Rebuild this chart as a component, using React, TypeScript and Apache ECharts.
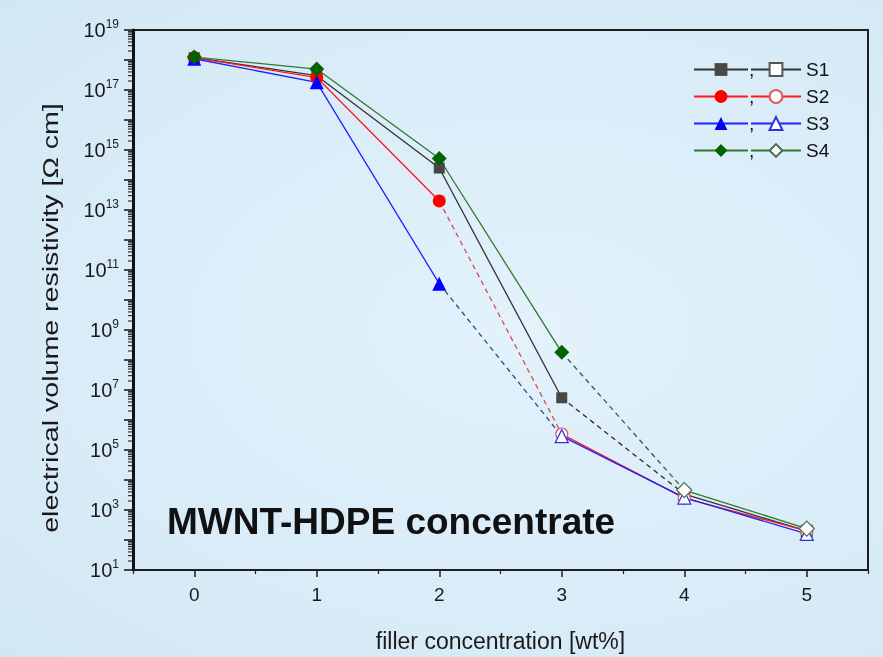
import React, { useEffect, useRef } from "react";
import * as echarts from "echarts";

const FONT = '"Liberation Sans", Arial, Helvetica, sans-serif';

// x positions (filler concentration, wt%)
const X_VALUES = [0, 1, 2, 3, 4, 5];
const X_TICKS = [0, 1, 2, 3, 4, 5];
const X_HALF_TICKS = [-0.5, 0.5, 1.5, 2.5, 3.5, 4.5, 5.5];

// electrical volume resistivity [Ω cm]
const S1_VALUES = [1.2e18, 3.0e17, 2.5e14, 5.5e6, 3.4e3, 2.0e2];
const S2_VALUES = [1.2e18, 2.6e17, 2.0e13, 3.4e5, 2.5e3, 2.0e2];
const S3_VALUES = [1.1e18, 1.8e17, 3.5e10, 2.9e5, 2.6e3, 1.6e2];
const S4_VALUES = [1.25e18, 5.0e17, 5.2e14, 1.8e8, 4.6e3, 2.4e2];
// index of the last filled (solid) point; later points are open symbols
const S1_LAST_FILLED = 3;
const S2_LAST_FILLED = 2;
const S3_LAST_FILLED = 2;
const S4_LAST_FILLED = 3;

const SERIES_NAMES = ["S1", "S2", "S3", "S4"];
const Y_MINOR_MULTIPLIERS = [2, 3, 4, 5, 6, 7, 8, 9];
const Y_MIN_EXP = 1;
const Y_MAX_EXP = 19;

const STYLES = [
  { line: "#333333", fill: "#474747", dash: "#2a2a2a", open: "#555555", symbol: "rect", size: 11, osize: 11 },
  { line: "#ff1a1a", fill: "#ff0000", dash: "#e04848", open: "#e05a5a", symbol: "circle", size: 13, osize: 12 },
  { line: "#2020ff", fill: "#0000ff", dash: "#30478a", open: "#3030e0", symbol: "triangle", size: 14, osize: 13 },
  { line: "#2f7a2f", fill: "#006400", dash: "#3c5c3c", open: "#4d6a4d", symbol: "diamond", size: 15, osize: 15 },
];

const ALL = [
  { vals: S1_VALUES, last: S1_LAST_FILLED },
  { vals: S2_VALUES, last: S2_LAST_FILLED },
  { vals: S3_VALUES, last: S3_LAST_FILLED },
  { vals: S4_VALUES, last: S4_LAST_FILLED },
];

function pairs(from: number, to: number, vals: number[]) {
  const out: number[][] = [];
  for (let i = from; i <= to; i++) out.push([X_VALUES[i], vals[i]]);
  return out;
}

export default function App() {
  const ref = useRef<HTMLDivElement>(null);

  useEffect(() => {
    if (!ref.current) return;
    const chart = echarts.init(ref.current, null, { renderer: "svg" });

    const series: any[] = [];
    ALL.forEach((s, k) => {
      const st = STYLES[k];
      const name = SERIES_NAMES[k];
      series.push({
        type: "line",
        name: name + " filled",
        data: pairs(0, s.last, s.vals),
        symbol: st.symbol,
        symbolSize: st.size,
        z: 4,
        lineStyle: { color: st.line, width: 1.3 },
        itemStyle: { color: st.fill },
      });
      series.push({
        type: "line",
        name: name + " link",
        data: pairs(s.last, s.last + 1, s.vals),
        showSymbol: false,
        symbol: "none",
        z: 2,
        lineStyle: { color: st.dash, width: 1.3, type: [5, 4] },
      });
      series.push({
        type: "line",
        name: name,
        data: pairs(s.last + 1, s.vals.length - 1, s.vals),
        symbol: st.symbol,
        symbolSize: st.osize,
        z: 3,
        lineStyle: { color: st.line, width: 1.3 },
        itemStyle: { color: "#fbfdfe", borderColor: st.open, borderWidth: 1.2 },
      });
    });

    // log-spaced minor ticks on the y axis
    const minorTicks: number[][] = [];
    for (let e = Y_MIN_EXP; e < Y_MAX_EXP; e++) {
      Y_MINOR_MULTIPLIERS.forEach((m) => minorTicks.push([-0.5, m * Math.pow(10, e)]));
    }
    series.push({
      type: "custom",
      name: "minor",
      silent: true,
      clip: false,
      z: 10,
      data: minorTicks,
      renderItem: (params: any, api: any) => {
        const p = api.coord([api.value(0), api.value(1)]);
        return {
          type: "line",
          shape: { x1: p[0] - 5, y1: p[1], x2: p[0], y2: p[1] },
          style: { stroke: "#111", lineWidth: 1 },
        };
      },
    });

    const legendText = { fontFamily: FONT, fontSize: 19, color: "#111", lineHeight: 16 };

    chart.setOption({
      animation: false,
      backgroundColor: "transparent",
      textStyle: { fontFamily: FONT },
      grid: {
        left: 133,
        right: 15,
        top: 30,
        bottom: 86,
        show: true,
        borderColor: "#1e1e1e",
        borderWidth: 2,
        backgroundColor: "transparent",
      },
      legend: [
        {
          data: SERIES_NAMES.map((n) => n + " filled"),
          orient: "vertical",
          left: 688,
          top: 55,
          itemWidth: 54,
          itemHeight: 16,
          itemGap: 8,
          selectedMode: false,
          formatter: () => ",",
          textStyle: { ...legendText, padding: [0, 0, 0, -4] },
        },
        {
          data: SERIES_NAMES,
          orient: "vertical",
          left: 745,
          top: 55,
          itemWidth: 50,
          itemHeight: 16,
          itemGap: 8,
          selectedMode: false,
          textStyle: { ...legendText, padding: [0, 0, 0, 0] },
        },
      ],
      xAxis: [
        {
          type: "value",
          min: -0.5,
          max: 5.5,
          interval: 0.5,
          axisLine: { onZero: false, lineStyle: { color: "#1e1e1e", width: 2 } },
          axisTick: { show: true, inside: false, length: 7, lineStyle: { color: "#1e1e1e", width: 1.5 }, customValues: X_TICKS },
          axisLabel: {
            customValues: X_TICKS,
            margin: 15,
            fontFamily: FONT,
            fontSize: 19,
            color: "#1a1a1a",
            formatter: (v: number) => (Number.isInteger(v) ? String(v) : ""),
          },
          splitLine: { show: false },
          name: "filler concentration [wt%]",
          nameLocation: "middle",
          nameGap: 59,
          nameTextStyle: { fontFamily: FONT, fontSize: 23, color: "#1a1a1a" },
        },
        {
          type: "value",
          min: -0.5,
          max: 5.5,
          interval: 0.5,
          position: "bottom",
          axisLine: { show: false, onZero: false },
          axisTick: { show: true, inside: false, length: 4, lineStyle: { color: "#1e1e1e", width: 1.2 }, customValues: X_HALF_TICKS },
          axisLabel: { show: false },
          splitLine: { show: false },
        },
      ],
      yAxis: {
        type: "log",
        logBase: 10,
        min: Math.pow(10, Y_MIN_EXP),
        max: Math.pow(10, Y_MAX_EXP),
        interval: 1,
        axisLine: { onZero: false, lineStyle: { color: "#111", width: 3 } },
        axisTick: { show: true, inside: false, length: 9, lineStyle: { color: "#111", width: 1.5 } },
        minorTick: { show: false },
        splitLine: { show: false },
        axisLabel: {
          margin: 14,
          fontFamily: FONT,
          color: "#1a1a1a",
          formatter: (v: number) => {
            const e = Math.round(Math.log10(v));
            return e % 2 === 1 ? `{b|10}{e|${e}}` : "";
          },
          rich: {
            b: { fontSize: 20, fontFamily: FONT, color: "#1a1a1a" },
            e: { fontSize: 12, fontFamily: FONT, color: "#1a1a1a", padding: [0, 0, 12, 0] },
          },
        },
      },
      graphic: [
        {
          type: "text",
          x: 50,
          y: 318,
          rotation: Math.PI / 2,
          scaleX: 1.3,
          style: {
            text: "electrical volume resistivity [Ω cm]",
            fontFamily: FONT,
            fontSize: 22,
            fill: "#1a1a1a",
            align: "center",
            verticalAlign: "middle",
          },
        },
        {
          type: "text",
          left: 167,
          top: 503,
          style: {
            text: "MWNT-HDPE concentrate",
            fontFamily: FONT,
            fontSize: 37,
            fontWeight: "bold",
            fill: "#111",
          },
        },
      ],
      series,
    });

    return () => chart.dispose();
  }, []);

  return (
    <div
      ref={ref}
      style={{
        position: "fixed",
        left: 0,
        top: 0,
        width: 883,
        height: 657,
        background: "radial-gradient(ellipse at 60% 50%, #e3f2fb 0%, #d9ecf8 60%, #d2e7f4 100%)",
      }}
    />
  );
}
